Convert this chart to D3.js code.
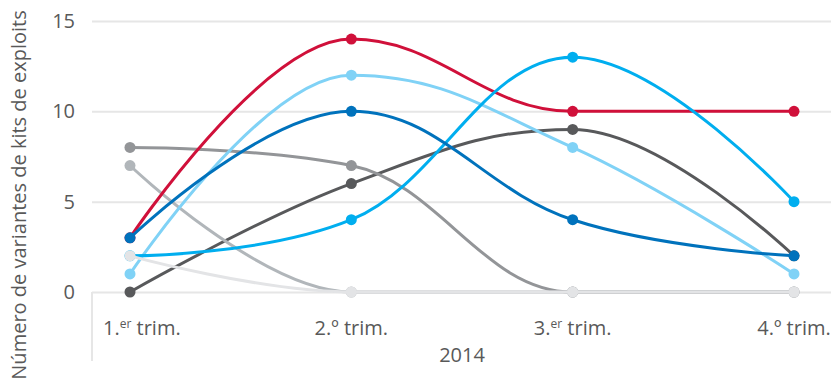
<!DOCTYPE html>
<html>
<head>
<meta charset="utf-8">
<script src="https://cdn.jsdelivr.net/npm/d3@7"></script>
<style>
  body { margin: 0; background: #fff; }
  text { font-family: "Open Sans", sans-serif; fill: #595959; }
</style>
</head>
<body>
<div class="chart"></div>
<script>
var svgWidth = 831;
var svgHeight = 386;

// data
var quarters = ['1.er trim.', '2.º trim.', '3.er trim.', '4.º trim.'];
var quarterMain = ['1.', '2.º', '3.', '4.º'];
var quarterSup = ['er', '', 'er', ''];
var yearLabel = '2014';
var yTicks = [0, 5, 10, 15];

var darkGray = [0, 6, 9, 2];
var midGray = [8, 7, 0, 0];
var lightGray = [7, 0, 0, 0];
var red = [3, 14, 10, 10];
var lightBlue = [1, 12, 8, 1];
var cyan = [2, 4, 13, 5];
var darkBlue = [3, 10, 4, 2];
var paleGray = [2, 0, 0, 0];

var series = [
  { values: darkGray, color: '#58595b' },
  { values: midGray, color: '#939598' },
  { values: lightGray, color: '#b1b6ba' },
  { values: red, color: '#d0103a' },
  { values: lightBlue, color: '#80d2f6' },
  { values: cyan, color: '#00aeef' },
  { values: darkBlue, color: '#0072bc' },
  { values: paleGray, color: '#e3e4e6' }
];

var plotLeft = 92;
var plotRight = 831;

var x = d3.scalePoint().domain(quarters).range([130, 794]);
var y = d3.scaleLinear().domain([0, 15]).range([292, 21]);

// spline like the original tool: control points with smoothing and no false extremes
function HighSpline(context) { this._context = context; }
HighSpline.prototype = {
  areaStart: function() { this._line = 0; },
  areaEnd: function() { this._line = NaN; },
  lineStart: function() { this._pts = []; },
  point: function(px, py) { this._pts.push([+px, +py]); },
  lineEnd: function() {
    var p = this._pts, ctx = this._context, n = p.length;
    if (!n) return;
    var smoothing = 1.5, denom = smoothing + 1;
    var ctrl = p.map(function() { return null; });
    for (var i = 1; i < n - 1; i++) {
      var px = p[i][0], py = p[i][1];
      var lx = p[i - 1][0], ly = p[i - 1][1];
      var nx = p[i + 1][0], ny = p[i + 1][1];
      var lcx = (smoothing * px + lx) / denom, lcy = (smoothing * py + ly) / denom;
      var rcx = (smoothing * px + nx) / denom, rcy = (smoothing * py + ny) / denom;
      var corr = 0;
      if (rcx !== lcx) corr = ((rcy - lcy) * (rcx - px)) / (rcx - lcx) + py - rcy;
      lcy += corr; rcy += corr;
      if (lcy > ly && lcy > py) { lcy = Math.max(ly, py); rcy = 2 * py - lcy; }
      else if (lcy < ly && lcy < py) { lcy = Math.min(ly, py); rcy = 2 * py - lcy; }
      if (rcy > ny && rcy > py) { rcy = Math.max(ny, py); lcy = 2 * py - rcy; }
      else if (rcy < ny && rcy < py) { rcy = Math.min(ny, py); lcy = 2 * py - rcy; }
      ctrl[i] = { l: [lcx, lcy], r: [rcx, rcy] };
    }
    ctx.moveTo(p[0][0], p[0][1]);
    for (var j = 1; j < n; j++) {
      var c1 = ctrl[j - 1] ? ctrl[j - 1].r : p[j - 1];
      var c2 = ctrl[j] ? ctrl[j].l : p[j];
      ctx.bezierCurveTo(c1[0], c1[1], c2[0], c2[1], p[j][0], p[j][1]);
    }
  }
};
function curveHighSpline(context) { return new HighSpline(context); }

var svg = d3.select('.chart')
  .append('svg')
  .attr('width', svgWidth)
  .attr('height', svgHeight);

// grid + y ticks
var yAxis = d3.axisLeft(y)
  .tickValues(yTicks)
  .tickSize(-(plotRight - plotLeft))
  .tickPadding(17);

var gy = svg.append('g')
  .attr('transform', 'translate(' + plotLeft + ',0)')
  .call(yAxis);
gy.select('.domain').remove();
gy.selectAll('.tick line').attr('stroke', '#e6e6e6').attr('stroke-width', 2);
gy.selectAll('.tick text')
  .style('font-size', '20px')
  .style('fill', '#595959');

// category frame
svg.append('line')
  .attr('x1', plotLeft).attr('x2', plotLeft)
  .attr('y1', y(0)).attr('y2', 361)
  .attr('stroke', '#e6e6e6').attr('stroke-width', 2);

// category labels
var cats = svg.append('g');
quarters.forEach(function(q, i) {
  var t = cats.append('text')
    .attr('x', i === 0 ? 103 : x(q))
    .attr('y', 335)
    .attr('text-anchor', i === 0 ? 'start' : 'middle')
    .style('font-size', '20px');
  t.append('tspan').text(quarterMain[i]);
  if (quarterSup[i]) {
    t.append('tspan').attr('dy', -7).style('font-size', '12px').text(quarterSup[i]);
    t.append('tspan').attr('dy', 7).text(' trim.');
  } else {
    t.append('tspan').text(' trim.');
  }
});

svg.append('text')
  .attr('x', (x(quarters[1]) + x(quarters[2])) / 2)
  .attr('y', 362)
  .attr('text-anchor', 'middle')
  .style('font-size', '20px')
  .text(yearLabel);

// y axis title
svg.append('text')
  .attr('transform', 'translate(26,' + 195 + ') rotate(-90)')
  .attr('text-anchor', 'middle')
  .style('font-size', '20px')
  .text('Número de variantes de kits de exploits');

// lines
var line = d3.line()
  .x(function(d, i) { return x(quarters[i]); })
  .y(function(d) { return y(d); })
  .curve(curveHighSpline);

var chart = svg.append('g');

series.forEach(function(s) {
  var g = chart.append('g');
  g.append('path')
    .attr('d', line(s.values))
    .attr('fill', 'none')
    .attr('stroke', s.color)
    .attr('stroke-width', 3);
  g.selectAll('circle')
    .data(s.values)
    .enter()
    .append('circle')
    .attr('cx', function(d, i) { return x(quarters[i]); })
    .attr('cy', function(d) { return y(d); })
    .attr('r', 5.5)
    .attr('fill', s.color);
});
</script>
</body>
</html>
